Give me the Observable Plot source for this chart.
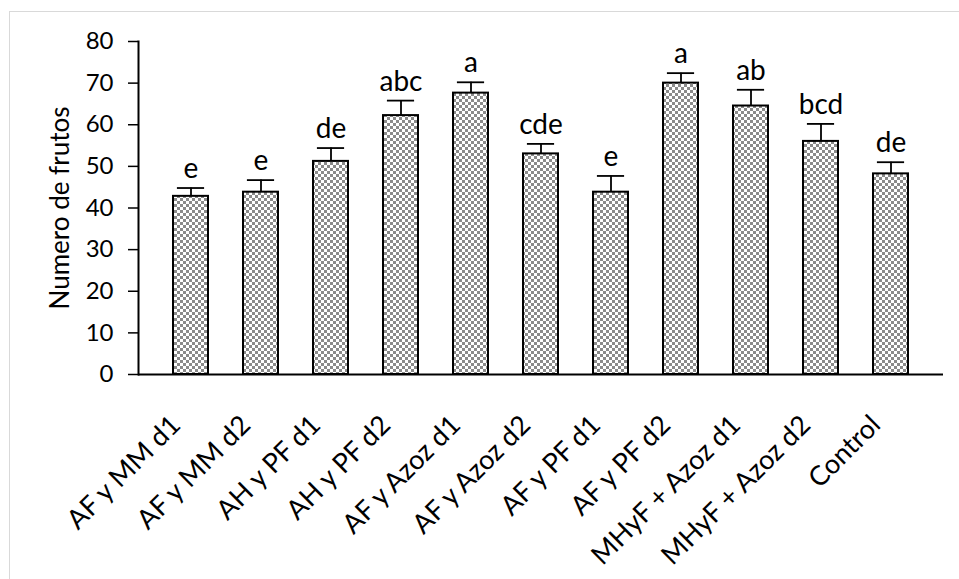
<!DOCTYPE html>
<html>
<head>
<meta charset="utf-8">
<script src="https://cdn.jsdelivr.net/npm/d3@7"></script>
<script src="https://cdn.jsdelivr.net/npm/@observablehq/plot@0.6"></script>
<style>
  html, body { margin: 0; padding: 0; background: #fff; overflow: hidden; }
  #wrap { position: relative; width: 959px; height: 579px; }
  #border { position: absolute; left: 9px; top: 11px; width: 1000px; height: 1000px; border: 1.5px solid #d9d9d9; box-sizing: border-box; }
  #chart { position: absolute; left: 0; top: 0; }
  svg { font-family: Lato, "Open Sans", sans-serif; }
</style>
</head>
<body>
<div id="wrap"><div id="border"></div><div id="chart"></div></div>
<script>
const categories = ["AF y MM d1", "AF y MM d2", "AH y PF d1", "AH y PF d2", "AF y Azoz d1", "AF y Azoz d2", "AF y PF d1", "AF y PF d2", "MHyF + Azoz d1", "MHyF + Azoz d2", "Control"];
const means = [42.8, 43.8, 51.2, 62.2, 67.6, 53.0, 43.8, 70.0, 64.5, 56.0, 48.2];
const errors = [2.0, 2.9, 3.2, 3.6, 2.6, 2.4, 3.9, 2.4, 3.9, 4.2, 2.8];
const letters = ["e", "e", "de", "abc", "a", "cde", "e", "a", "ab", "bcd", "de"];
const yTicks = [0, 10, 20, 30, 40, 50, 60, 70, 80];
const yLabel = "Numero de frutos";

const data = categories.map((c, i) => ({cat: c, mean: means[i], err: errors[i], top: means[i] + errors[i], letter: letters[i]}));

const W = 959, H = 579;
const mL = 138, mR = 16, mT = 41, mB = 205;
const band = (W - mL - mR) / categories.length;
const capInset = (band - 11) / 2;

const plot = Plot.plot({
  width: W,
  height: H,
  marginLeft: mL,
  marginRight: mR,
  marginTop: mT,
  marginBottom: mB,
  style: {fontFamily: "Lato, 'Open Sans', sans-serif", color: "#000", background: "transparent"},
  x: {domain: categories, padding: 0.5},
  y: {domain: [0, 80]},
  marks: [
    Plot.barY(data, {x: "cat", y: "mean", fill: "url(#checker)", stroke: "#000", strokeWidth: 2}),
    Plot.ruleX(data, {x: "cat", y1: "mean", y2: "top", stroke: "#000", strokeWidth: 1.8}),
    Plot.tickY(data, {x: "cat", y: "top", stroke: "#000", strokeWidth: 1.8, insetLeft: capInset, insetRight: capInset}),
    Plot.text(data, {x: "cat", y: "top", text: "letter", lineAnchor: "bottom", dy: -10, fontSize: 28, fill: "#000"}),
    Plot.ruleY([0], {stroke: "#000", strokeWidth: 2}),
    Plot.frame({anchor: "left", stroke: "#000", strokeWidth: 2}),
    Plot.axisY({ticks: yTicks, tickSize: 10, tickPadding: 15, fontSize: 24, strokeWidth: 1.5, label: null}),
    Plot.text([yLabel], {frameAnchor: "left", textAnchor: "middle", rotate: -90, dx: -78, fontSize: 26, fill: "#000"}),
    Plot.axisX({tickSize: 0, tickRotate: -45, tickPadding: 46, dx: -15, fontSize: 27, label: null})
  ]
});

const svg = d3.select(plot);
const defs = svg.insert("defs", ":first-child");
const pat = defs.append("pattern").attr("id", "checker").attr("patternUnits", "userSpaceOnUse").attr("width", 6).attr("height", 6);
pat.append("rect").attr("width", 6).attr("height", 6).attr("fill", "#ffffff");
pat.append("rect").attr("x", 0).attr("y", 0).attr("width", 3).attr("height", 3).attr("fill", "#8a8a8a");
pat.append("rect").attr("x", 3).attr("y", 3).attr("width", 3).attr("height", 3).attr("fill", "#8a8a8a");

document.getElementById("chart").appendChild(plot);
</script>
</body>
</html>
